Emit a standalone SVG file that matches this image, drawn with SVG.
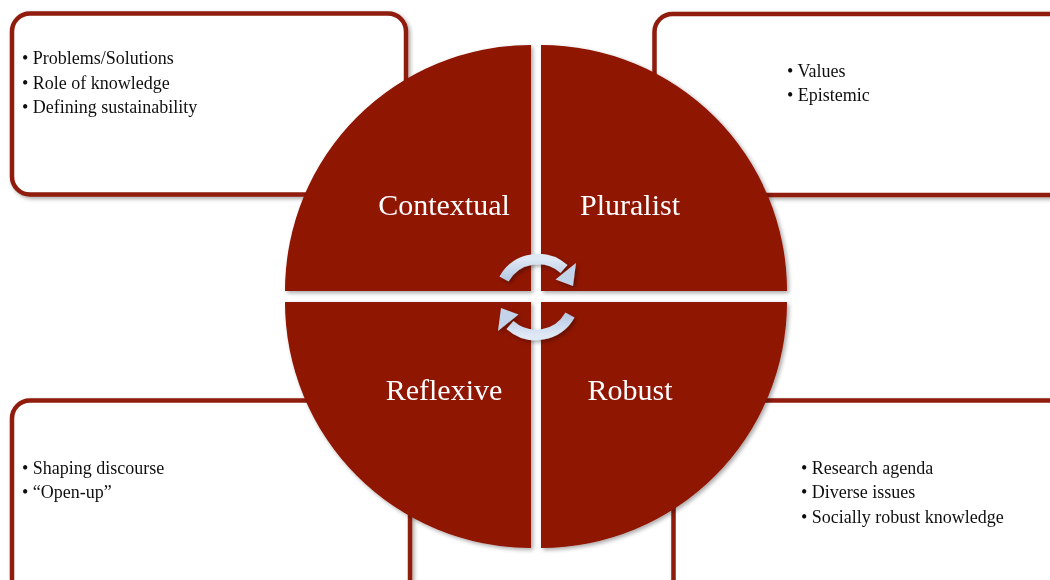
<svg xmlns="http://www.w3.org/2000/svg" width="1050" height="580" viewBox="0 0 1050 580">
  <defs>
    <filter id="shadow" x="-10%" y="-10%" width="130%" height="130%">
      <feGaussianBlur in="SourceAlpha" stdDeviation="2"/>
      <feOffset dx="1.5" dy="2" result="b"/>
      <feComponentTransfer><feFuncA type="linear" slope="0.35"/></feComponentTransfer>
      <feMerge><feMergeNode/><feMergeNode in="SourceGraphic"/></feMerge>
    </filter>
    <linearGradient id="cycleGrad" x1="0" y1="0" x2="0" y2="1">
      <stop offset="0" stop-color="#dfe8f5"/>
      <stop offset="1" stop-color="#b7cae4"/>
    </linearGradient>
  </defs>
  <style>
    .box { fill: #ffffff; stroke: #8f1a0a; stroke-width: 4.5; }
    .quad { fill: #8f1300; }
    .label { font-family: "Liberation Serif", "DejaVu Serif", serif; font-size: 30px; fill: #ffffff; text-anchor: middle; }
    .item { font-family: "Liberation Serif", "DejaVu Serif", serif; font-size: 18px; fill: #111111; }
    .cycle { fill: none; stroke: url(#cycleGrad); stroke-width: 10.5; }
    .head { fill: #c3d3ea; }
  </style>
  <rect width="1050" height="580" fill="#ffffff"/>

  <!-- outer text boxes -->
  <g id="box-contextual" filter="url(#shadow)">
    <rect class="box" x="12" y="13.5" width="394" height="181" rx="18"/>
    <text class="item" x="22" y="64">• Problems/Solutions</text>
    <text class="item" x="22" y="88.5">• Role of knowledge</text>
    <text class="item" x="22" y="113">• Defining sustainability</text>
  </g>
  <g id="box-pluralist" filter="url(#shadow)">
    <rect class="box" x="654.5" y="14" width="420" height="181" rx="18"/>
    <text class="item" x="787" y="77">• Values</text>
    <text class="item" x="787" y="101">• Epistemic</text>
  </g>
  <g id="box-reflexive" filter="url(#shadow)">
    <rect class="box" x="12" y="400.5" width="398" height="200" rx="18"/>
    <text class="item" x="22" y="474">• Shaping discourse</text>
    <text class="item" x="22" y="498">• “Open-up”</text>
  </g>
  <g id="box-robust" filter="url(#shadow)">
    <rect class="box" x="673.5" y="400.5" width="420" height="200" rx="18"/>
    <text class="item" x="801" y="474">• Research agenda</text>
    <text class="item" x="801" y="498">• Diverse issues</text>
    <text class="item" x="801" y="523">• Socially robust knowledge</text>
  </g>

  <!-- central circle split in four quadrants -->
  <g id="quad-contextual" filter="url(#shadow)">
    <path class="quad" d="M531,291 L285,291 A246,246 0 0 1 531,45 Z"/>
    <text class="label" x="444" y="215">Contextual</text>
  </g>
  <g id="quad-pluralist" filter="url(#shadow)">
    <path class="quad" d="M541,291 L541,45 A246,246 0 0 1 787,291 Z"/>
    <text class="label" x="630" y="215">Pluralist</text>
  </g>
  <g id="quad-reflexive" filter="url(#shadow)">
    <path class="quad" d="M531,302 L531,548 A246,246 0 0 1 285,302 Z"/>
    <text class="label" x="444" y="400">Reflexive</text>
  </g>
  <g id="quad-robust" filter="url(#shadow)">
    <path class="quad" d="M541,302 L787,302 A246,246 0 0 1 541,548 Z"/>
    <text class="label" x="630" y="400">Robust</text>
  </g>

  <!-- cycle arrows in the centre -->
  <g id="connectors" filter="url(#shadow)">
    <g id="cycle-top">
      <path class="cycle" d="M504,279 A39,39 0 0 1 564,269"/>
      <polygon class="head" points="576,263 555.5,279.5 573,286"/>
    </g>
    <g id="cycle-bottom" transform="rotate(180 537 297)">
      <path class="cycle" d="M504,279 A39,39 0 0 1 564,269"/>
      <polygon class="head" points="576,263 555.5,279.5 573,286"/>
    </g>
  </g>
</svg>
